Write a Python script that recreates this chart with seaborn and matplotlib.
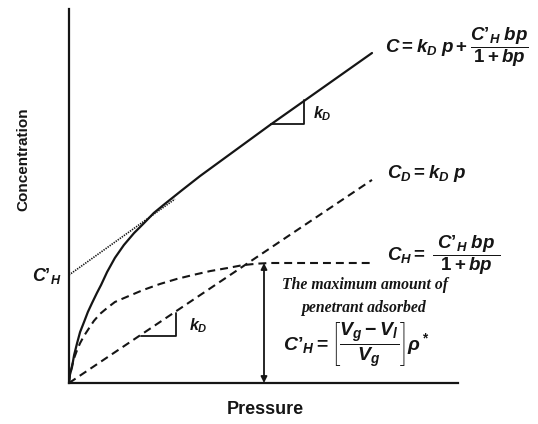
import matplotlib
matplotlib.use("Agg")
import matplotlib.pyplot as plt
import seaborn as sns
import pandas as pd

# Dual-mode sorption isotherm (schematic units)
total_p = [0, 0.03, 0.1, 0.17, 0.27, 0.37, 0.5, 0.63, 0.77, 0.93, 1.07, 1.27,
           1.53, 1.83, 2.17, 2.5, 2.83, 3.17, 3.77, 4.37, 6.7, 10.1]
total_c = [0, 0.27, 0.53, 0.93, 1.33, 1.7, 2.03, 2.37, 2.67, 3.0, 3.27, 3.7,
           4.17, 4.6, 5.0, 5.33, 5.67, 5.95, 6.43, 6.9, 8.6, 11.0]

langmuir_p = [0, 0.03, 0.1, 0.17, 0.27, 0.37, 0.5, 0.67, 0.83, 1.03, 1.27, 1.53,
              1.83, 2.47, 3.03, 3.6, 4.13, 4.7, 5.27, 5.8, 6.3, 6.7, 10.1]
langmuir_c = [0, 0.27, 0.57, 0.83, 1.1, 1.33, 1.57, 1.83, 2.07, 2.3, 2.5, 2.7,
              2.83, 3.1, 3.3, 3.47, 3.6, 3.73, 3.83, 3.93, 3.98, 4.0, 4.0]

henry_p = [0, 10.1]
henry_c = [0, 6.77]

asymptote_p = [0, 3.53]
asymptote_c = [3.6, 6.13]

# slope triangles (horizontal leg then vertical leg)
slope_upper_p = [6.73, 7.83, 7.83]
slope_upper_c = [8.63, 8.63, 9.43]
slope_lower_p = [2.4, 3.57, 3.57]
slope_lower_c = [1.57, 1.57, 2.33]

sns.set_theme(style="white")
plt.rcParams["font.family"] = ["Liberation Sans", "DejaVu Sans"]
plt.rcParams["mathtext.fontset"] = "custom"
plt.rcParams["mathtext.rm"] = "Liberation Sans:bold"
plt.rcParams["mathtext.it"] = "Liberation Sans:bold:italic"
plt.rcParams["mathtext.bf"] = "Liberation Sans:bold"

ink = "#151515"
W, H = 538, 424
fig = plt.figure(figsize=(W / 100, H / 100), dpi=100)
ax = fig.add_axes([69 / W, (H - 383) / H, (458 - 69) / W, (383 - 9) / H])
ax.set_xlim(0, (458 - 69) / 30)
ax.set_ylim(0, (383 - 9) / 30)

def curve(px, cy, **kw):
    df = pd.DataFrame({"p": px, "c": cy})
    sns.lineplot(data=df, x="p", y="c", estimator=None, sort=False, ax=ax,
                 color=ink, **kw)

curve(total_p, total_c, lw=1.6)
curve(langmuir_p, langmuir_c, lw=1.5, linestyle=(0, (3.8, 2.4)))
curve(henry_p, henry_c, lw=1.5, linestyle=(0, (3.8, 2.4)))
curve(asymptote_p, asymptote_c, lw=1.2, linestyle=(0, (0.8, 0.7)))
curve(slope_upper_p, slope_upper_c, lw=1.3)
curve(slope_lower_p, slope_lower_c, lw=1.3)

# capacity arrow spanning 0 .. C'_H
ax.annotate("", xy=(6.5, 0.0), xytext=(6.5, max(langmuir_c)),
            arrowprops=dict(arrowstyle="<|-|>", color=ink, lw=1.3,
                            mutation_scale=9, shrinkA=0, shrinkB=0))

for side in ("top", "right"):
    ax.spines[side].set_visible(False)
for side in ("left", "bottom"):
    ax.spines[side].set_color(ink)
    ax.spines[side].set_linewidth(1.6)
ax.set_xticks([])
ax.set_yticks([])
ax.set_xlabel("")
ax.set_ylabel("")

CH = "C\u2019_H"
txt = dict(color=ink, clip_on=False)
ax.text(10.53, 11.2, r"$C = k_D\;p + \dfrac{" + CH + r"\;bp}{1 + bp}$",
        fontsize=13.5, ha="left", va="center", **txt)
ax.text(8.43, 8.97, r"$k_D$", fontsize=11.5, ha="center", va="center", **txt)
ax.text(10.6, 7.0, r"$C_D = k_D\;p$", fontsize=13.5, ha="left", va="center", **txt)
ax.text(10.6, 4.27, r"$C_H =\; \dfrac{\;" + CH + r"\;bp\;}{\;1 + bp\;}$",
        fontsize=13.5, ha="left", va="center", **txt)
ax.text(9.87, 3.27, "The maximum amount of", family="Liberation Serif",
        style="italic", weight="bold", fontsize=11.3, ha="center", va="center", **txt)
ax.text(9.8, 2.5, "penetrant adsorbed", family="Liberation Serif",
        style="italic", weight="bold", fontsize=11.3, ha="center", va="center", **txt)
ax.text(7.13, 1.27,
        r"$" + CH + r" = \left[\dfrac{V_g - V_l}{V_g}\right]\rho^*$",
        fontsize=14, ha="left", va="center", **txt)
ax.text(4.3, 1.9, r"$k_D$", fontsize=11.5, ha="center", va="center", **txt)
ax.text(-0.73, 3.57, r"$" + CH + r"$", fontsize=13, ha="center", va="center", **txt)
ax.text(-1.53, 7.47, "Concentration", fontsize=11, weight="bold", rotation=90,
        ha="center", va="center", **txt)
ax.text(6.53, -0.9, "Pressure", fontsize=13, weight="bold",
        ha="center", va="center", **txt)

fig.savefig("out.png", dpi=100)
